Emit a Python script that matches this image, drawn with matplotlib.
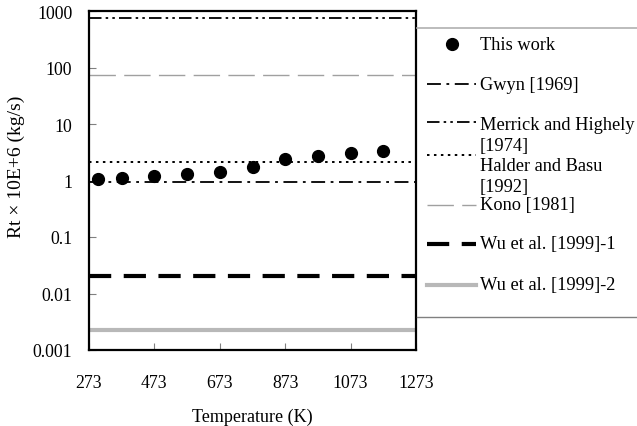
import matplotlib
matplotlib.use("Agg")
import matplotlib.pyplot as plt
from matplotlib.lines import Line2D

plt.rcParams['font.family'] = ['Liberation Serif', 'DejaVu Serif']
plt.rcParams['lines.scale_dashes'] = False

# Data
temperature = [300, 373, 473, 573, 673, 773, 873, 973, 1073, 1173]
rt_this_work = [1.08, 1.10, 1.22, 1.32, 1.43, 1.75, 2.42, 2.66, 3.04, 3.36]

ref_labels = ["Gwyn [1969]", "Merrick and Highely\n[1974]", "Halder and Basu\n[1992]",
              "Kono [1981]", "Wu et al. [1999]-1", "Wu et al. [1999]-2"]
ref_values = [0.95, 750, 2.1, 74, 0.020, 0.0023]

x_ticks = [273, 473, 673, 873, 1073, 1273]
y_ticks = [0.001, 0.01, 0.1, 1, 10, 100, 1000]
y_ticklabels = ["0.001", "0.01", "0.1", "1", "10", "100", "1000"]

styles = [
    dict(color='black', lw=1.3, dashes=(10, 4, 2, 4)),
    dict(color='black', lw=1.3, dashes=(9, 3, 1.8, 3, 1.8, 3)),
    dict(color='black', lw=1.4, dashes=(1.8, 3.2)),
    dict(color='#a0a0a0', lw=1.0, dashes=(19, 6)),
    dict(color='black', lw=3.0, dashes=(16, 9)),
    dict(color='#b8b8b8', lw=3.0, dashes=None),
]

W, H = 637, 427
fig = plt.figure(figsize=(W / 100, H / 100), dpi=100)
ax = fig.add_axes([89 / W, 1 - 351 / H, (416 - 89) / W, (351 - 12) / H])

xmin, xmax = 273, 1273


def line_kw(st):
    kw = dict(color=st['color'], lw=st['lw'])
    if st['dashes'] is not None:
        kw['dashes'] = st['dashes']
    return kw


for val, st in zip(ref_values, styles):
    ax.plot([xmin, xmax], [val, val], **line_kw(st))

ax.plot(temperature, rt_this_work, 'o', color='black', ms=8.5, zorder=5)

ax.set_yscale('log')
ax.set_xlim(xmin, xmax)
ax.set_ylim(0.001, 1000)
ax.set_xticks(x_ticks)
ax.set_xticklabels([str(t) for t in x_ticks])
ax.set_yticks(y_ticks)
ax.set_yticklabels(y_ticklabels)
ax.minorticks_off()
ax.tick_params(axis='both', direction='in', length=5, color='#808080', labelsize=12.8)
ax.tick_params(axis='y', pad=12)
ax.tick_params(axis='x', pad=17)
for sp in ax.spines.values():
    sp.set_linewidth(1.6)

ax.set_xlabel("Temperature (K)", fontsize=13, labelpad=12)
ax.set_ylabel("Rt \u00d7 10E+6 (kg/s)", fontsize=14)
ax.yaxis.set_label_coords(-0.196, 0.543)

# Legend (manual, figure pixel coordinates)
def fx(px):
    return px / W


def fy(py):
    return 1 - py / H


fig.add_artist(Line2D([fx(417), fx(637)], [fy(29), fy(29)], color='#b0b0b0', lw=1.2))
fig.add_artist(Line2D([fx(417), fx(637)], [fy(318), fy(318)], color='#808080', lw=1.0))

LFS = 13.2
fig.add_artist(Line2D([fx(452)], [fy(45)], marker='o', color='black', ms=8.5, ls='none'))
fig.text(fx(480), fy(45), "This work", fontsize=LFS, va='center', ha='left')

entry_y = [85, 126, 167, 206, 245, 286]
handle_y = [85, 123, 156, 206, 245, 286]
for lab, st, ty, hy in zip(ref_labels, styles, entry_y, handle_y):
    fig.add_artist(Line2D([fx(427), fx(476)], [fy(hy), fy(hy)], **line_kw(st)))
    if '\n' in lab:
        fig.text(fx(480), fy(ty - 9), lab, fontsize=LFS, va='top', ha='left',
                 linespacing=1.3)
    else:
        fig.text(fx(480), fy(ty), lab, fontsize=LFS, va='center', ha='left')

fig.savefig("out.png", dpi=100)
